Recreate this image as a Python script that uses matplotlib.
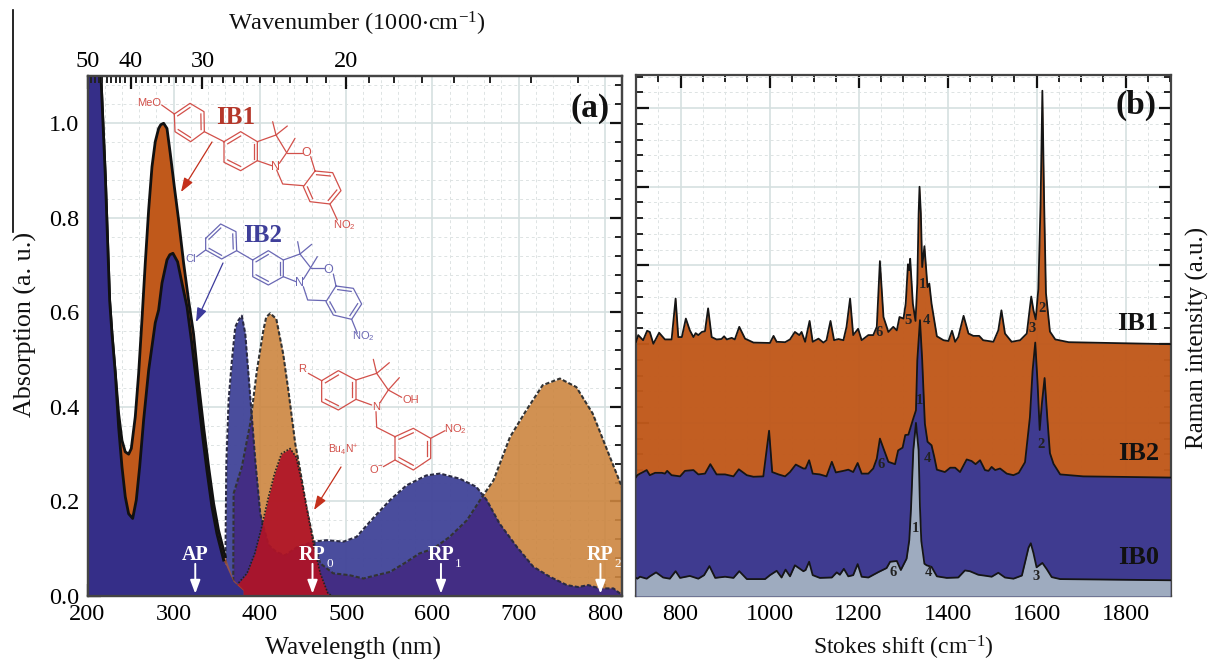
import numpy as np
import matplotlib
matplotlib.use('Agg')
import matplotlib.pyplot as plt
from matplotlib.ticker import MultipleLocator

plt.rcParams['font.family'] = ['Liberation Serif', 'DejaVu Serif']
plt.rcParams['mathtext.default'] = 'regular'

# absorption spectra (a)
wl_ib1 = [200, 215.6, 220.7, 225.7, 228.4, 232.3, 236.1, 240, 243.8, 247.7, 250.8, 255.4, 259.3, 263.2, 267, 270.9, 274.8, 278.6,
          282.5, 285, 288.3, 292.2, 296, 300.7, 305.7, 311.5, 317.3, 323, 328.9, 334.7, 340.5, 346.3, 352, 359.8, 369.5, 381]
abs_ib1 = [1.74, 1.098, .887, .625, .555, .470, .386, .329, .305, .30, .312, .379, .470, .585, .704, .816, .908, .961,
           .989, .997, 1.0, .989, .936, .866, .795, .704, .625, .555, .449, .357, .273, .196, .139, .083, .034, .013]
wl_ib2 = [200, 215.6, 220.7, 225.7, 228.4, 232.3, 236.1, 240, 243.8, 247.7, 252.4, 256.6, 260.5, 265.1, 270.9, 278.6, 282.5, 286.4,
          292.2, 295.5, 299.1, 304.5, 309.6, 315.4, 321.1, 327, 332.7, 338.5, 344.3, 350.1, 357.9, 369.5, 381]
abs_ib2 = [1.74, 1.098, .887, .625, .555, .470, .357, .273, .210, .174, .164, .203, .273, .372, .477, .578, .605, .662,
           .711, .722, .725, .707, .662, .612, .533, .442, .350, .266, .189, .132, .076, .030, .011]

wl_rp_ib2 = [359.8, 360.2, 361, 363.7, 367.5, 371.4, 375, 379, 383, 388.8, 394.6, 400.4, 404.2, 410, 419, 429, 443, 462, 477, 497,
             512, 531, 551, 570, 593, 609, 632, 651, 663, 678, 698, 717, 736, 756, 769, 781, 794, 810, 818, 820]
rp_ib2 = [.002, .111, .273, .414, .498, .569, .583, .593, .555, .421, .287, .174, .146, .108, .093, .086, .103, .115, .118, .115,
          .125, .164, .203, .234, .255, .259, .248, .231, .203, .153, .104, .062, .041, .023, .019, .023, .016, .016, .005, .003]
wl_rp_ib1 = [369, 369.5, 379, 388.8, 396.5, 404, 407.3, 412, 419, 427, 433, 441, 446, 454, 462, 470, 485, 504, 520, 535, 551, 570,
             585, 601, 620, 640, 659, 671, 690, 709, 728, 748, 767, 786, 806, 820]
rp_ib1 = [.005, .217, .273, .365, .477, .562, .590, .598, .586, .512, .435, .322, .273, .188, .118, .069, .048, .044, .037, .044, .051, .072,
          .090, .100, .125, .160, .213, .245, .336, .393, .446, .460, .442, .386, .294, .23]
wl_bu = [360.5, 373, 385, 394, 402, 410, 417, 425, 435, 442, 448, 454, 462, 470, 479, 485]
rp_bu = [.005, .023, .048, .090, .146, .210, .259, .301, .312, .294, .245, .188, .111, .048, .005, 0]

# raman spectra (b)
w_ib1 = [700, 705, 716, 725, 731, 739, 752, 765, 780, 789, 795, 803, 812, 821, 829, 834, 840, 848, 855, 862, 870, 881, 892, 898,
         904, 915, 922, 932, 945, 964, 1001, 1009, 1016, 1035, 1046, 1057, 1067, 1072, 1080, 1090, 1097, 1110, 1121, 1128, 1137,
         1145, 1155, 1166, 1173, 1181, 1188, 1199, 1207, 1222, 1233, 1241, 1248, 1256, 1267, 1278, 1286, 1292, 1301, 1306, 1311,
         1314, 1316, 1322, 1328, 1332, 1335, 1337, 1340, 1343, 1348, 1355, 1359, 1364, 1376, 1391, 1402, 1410, 1417, 1424, 1436, 1447, 1458,
         1471, 1480, 1503, 1514, 1521, 1529, 1544, 1563, 1578, 1588, 1593, 1598, 1604, 1609, 1613, 1617, 1621, 1630, 1642, 1672, 1900]
r_ib1 = [.606, .623, .610, .634, .631, .601, .629, .612, .612, .716, .618, .618, .665, .635, .618, .628, .623, .631, .633, .691, .618, .612, .613, .620,
         .612, .616, .612, .644, .614, .604, .603, .621, .606, .605, .612, .631, .623, .631, .606, .659, .606, .614, .604, .610, .659,
         .610, .613, .610, .644, .716, .623, .639, .610, .623, .623, .644, .811, .669, .631, .644, .635, .669, .665, .703, .803,
         .788, .817, .703, .659, .754, .932, 1.0, .932, .796, .849, .745, .754, .703, .620, .610, .608, .634, .606, .618, .672, .627, .621,
         .621, .610, .606, .635, .686, .627, .606, .610, .627, .721, .686, .663, .74, .958, 1.244, .958, .73, .632, .612, .605, .600]
w_ib2 = [700, 703, 709, 716, 724, 731, 743, 758, 765, 770, 780, 799, 810, 829, 840, 855, 867, 881, 900, 919, 931, 949, 964, 986, 999,
         1006, 1020, 1035, 1046, 1059, 1076, 1081, 1089, 1097, 1113, 1128, 1140, 1149, 1166, 1177, 1188, 1198, 1207, 1222, 1233, 1241,
         1248, 1256, 1267, 1282, 1289, 1299, 1305, 1312, 1323, 1329, 1332, 1338, 1343, 1349, 1355, 1364, 1370, 1376, 1394, 1406, 1417,
         1428, 1443, 1454, 1463, 1473, 1484, 1492, 1499, 1507, 1518, 1533, 1548, 1560, 1574, 1585, 1591, 1597, 1602, 1607, 1612, 1618, 1624, 1630, 1638, 1653, 1705, 1900]
r_ib2 = [.262, .267, .271, .275, .280, .267, .273, .273, .271, .278, .267, .264, .278, .280, .269, .271, .295, .269, .269, .264, .282, .267, .263, .264, .380,
         .275, .269, .264, .275, .294, .284, .284, .305, .271, .269, .264, .301, .274, .278, .281, .275, .298, .271, .271, .284, .309,
         .360, .335, .301, .295, .330, .337, .369, .370, .411, .432, .559, .661, .559, .398, .352, .343, .314, .281, .275, .286, .286,
         .275, .307, .303, .295, .305, .280, .278, .288, .280, .284, .271, .267, .273, .300, .414, .532, .604, .505, .382, .450, .514, .414, .323, .296, .269, .264, .261]
w_ib0 = [700, 703, 709, 724, 731, 745, 761, 776, 789, 799, 821, 840, 853, 865, 878, 900, 919, 932, 949, 990, 1001, 1016, 1027, 1036, 1046,
         1057, 1076, 1081, 1089, 1097, 1113, 1140, 1151, 1158, 1167, 1177, 1188, 1198, 1207, 1222, 1245, 1263, 1271, 1286, 1295, 1308,
         1314, 1318, 1323, 1329, 1335, 1338, 1341, 1348, 1353, 1364, 1376, 1398, 1424, 1439, 1450, 1469, 1488, 1499, 1514, 1529, 1548, 1567, 1582, 1587, 1593,
         1600, 1613, 1623, 1634, 1653, 1900]
r_ib0 = [.006, .004, .009, .004, .010, .020, .007, .004, .023, .006, .011, .004, .013, .036, .006, .009, .006, .023, .003, .003, .013, .024, .007, .027, .010,
         .038, .023, .026, .047, .013, .006, .007, .020, .014, .029, .010, .013, .041, .009, .007, .021, .031, .047, .049, .026, .055,
         .102, .186, .33, .400, .33, .186, .10, .042, .038, .034, .010, .006, .007, .025, .023, .014, .011, .009, .019, .007, .004, .012, .083, .094, .069,
         .033, .044, .028, .008, .003, 0]

# top axis ticks, 1000/cm
wn_major = [50, 40, 30, 20]
wn_minor = list(range(13, 50))

TAN = '#CC853F'
BLUE = '#44479A'
PURPLE = '#432D84'
RED = '#B01427'
ORANGE = '#C0591B'
NAVY = '#352E88'
GREY = '#9EABBF'
ARROW_RED = '#C4301C'
MOL_RED = '#D2504A'
MOL_BLUE = '#6A68B4'

W, H = 1210, 661
fig = plt.figure(figsize=(W / 100, H / 100), dpi=100)
ax1 = fig.add_axes([87.5 / W, 1 - 596 / H, 534.5 / W, 520 / H])
ax2 = fig.add_axes([636 / W, 1 - 596 / H, 535 / W, 521 / H])


def style_axes(ax):
    ax.set_axisbelow(True)
    ax.grid(which='major', color='#D5E0E0', lw=1.2)
    ax.grid(which='minor', color='#DDE3E3', lw=0.7, ls=(0, (3, 3)))
    ax.tick_params(which='major', direction='in', length=9, width=1.6, color='#111111', labelsize=17.5, pad=6)
    ax.tick_params(which='minor', direction='in', length=5, width=1.4, color='#222222')
    ax.tick_params(which='both', left=True, right=True, bottom=True)
    for s in ax.spines.values():
        s.set_linewidth(1.6)
        s.set_color('#444444')


# panel a
ax1.set_xlim(200, 820)
ax1.set_ylim(0, 1.1)
ax1.xaxis.set_major_locator(MultipleLocator(100))
ax1.xaxis.set_minor_locator(MultipleLocator(20))
ax1.yaxis.set_major_locator(MultipleLocator(0.2))
ax1.yaxis.set_minor_locator(MultipleLocator(0.04))
style_axes(ax1)

ax1.fill_between(wl_rp_ib1, rp_ib1, color=TAN, alpha=0.9, lw=0, zorder=2)
blue_fill = ax1.fill_between(wl_rp_ib2, rp_ib2, color=BLUE, alpha=0.97, lw=0, zorder=3)
both = ax1.fill_between(wl_rp_ib1, rp_ib1, color=PURPLE, lw=0, zorder=4)
both.set_clip_path(blue_fill.get_paths()[0], blue_fill.get_transform())
ax1.plot(wl_rp_ib1, rp_ib1, color='#333333', lw=1.5, ls=(0, (2, 1)), zorder=5)
ax1.plot(wl_rp_ib2, rp_ib2, color='#2A2A44', lw=1.5, ls=(0, (2, 1)), zorder=5)
ax1.fill_between(wl_bu, rp_bu, color=RED, alpha=0.93, lw=0, zorder=6)
ax1.plot(wl_bu, rp_bu, color='#222222', lw=1.2, ls=(0, (1, 1)), zorder=7)
# the black outlines stop near 360 nm, only the fill runs on
ax1.fill_between(wl_ib1, abs_ib1, color=ORANGE, alpha=0.6, lw=0, zorder=8)
ax1.fill_between(wl_ib1[:-2], abs_ib1[:-2], color=ORANGE, lw=0, zorder=8)
ax1.plot(wl_ib1[:-2], abs_ib1[:-2], color='#111111', lw=2, zorder=9)
ax1.fill_between(wl_ib2, abs_ib2, color=NAVY, lw=0, zorder=10)
ax1.plot(wl_ib2[:-2], abs_ib2[:-2], color='#111111', lw=2, zorder=11)

top = ax1.twiny()
top.set_xlim(200, 820)
top.set_xticks([1e4 / k for k in wn_major])
top.set_xticklabels([str(k) for k in wn_major])
top.set_xticks([1e4 / k for k in wn_minor], minor=True)
top.tick_params(which='major', direction='in', length=9, width=1.6, color='#111111', labelsize=17.5, pad=3)
top.tick_params(which='minor', direction='in', length=5, width=1.4, color='#222222')
for s in top.spines.values():
    s.set_linewidth(1.6)
    s.set_color('#444444')

# panel b
ax2.set_xlim(700, 1902)
ax2.set_ylim(-0.04, 1.284)
ax2.xaxis.set_major_locator(MultipleLocator(200))
ax2.xaxis.set_minor_locator(MultipleLocator(50))
ax2.yaxis.set_major_locator(MultipleLocator(0.2))
ax2.yaxis.set_minor_locator(MultipleLocator(0.04))
style_axes(ax2)
ax2.tick_params(which='both', top=True, labelleft=False)
ax2.fill_between(w_ib1, r_ib1, -0.04, color=ORANGE, alpha=0.97, lw=0, zorder=2)
ax2.plot(w_ib1, r_ib1, color='#151515', lw=1.3, zorder=3)
ax2.fill_between(w_ib2, r_ib2, -0.04, color='#3F3B90', lw=0, zorder=4)
ax2.plot(w_ib2, r_ib2, color='#151515', lw=1.3, zorder=5)
ax2.fill_between(w_ib0, r_ib0, -0.04, color=GREY, lw=0, zorder=6)
ax2.plot(w_ib0, r_ib0, color='#151515', lw=1.3, zorder=7)

# arrows and labels inside panel a
for x_arr, lab, sub in [(325, 'AP', ''), (461, 'RP', '0'), (610, 'RP', '1'), (795, 'RP', '2')]:
    ax1.annotate('', xy=(x_arr, 0.005), xytext=(x_arr, 0.068), zorder=20,
                 arrowprops=dict(arrowstyle='-|>,head_width=0.3,head_length=0.8', color='white', lw=1.4, shrinkA=0, shrinkB=0))
    ax1.text(x_arr, 0.087, lab, color='white', fontsize=14.5, fontweight='bold', ha='center', va='center', zorder=20)
    if sub:
        ax1.text(x_arr + 20, 0.067, sub, color='white', fontsize=9.5, ha='center', va='center', zorder=20)

# page overlay in pixels, for the chemical drawings and labels
ov = fig.add_axes([0, 0, 1, 1], facecolor='none')
ov.set_xlim(0, W)
ov.set_ylim(H, 0)
ov.axis('off')


def bonds(paths, color, off=(0, 0)):
    for p in paths:
        a = np.array(p, dtype=float) / 3 + off
        ov.plot(a[:, 0], a[:, 1], color=color, lw=0.9, solid_capstyle='round')


def ring(pts, color, off=(0, 0), doubles=(0, 2, 4)):
    a = np.array(pts, dtype=float) / 3 + off
    ov.plot(*np.vstack([a, a[:1]]).T, color=color, lw=0.9)
    c = a.mean(axis=0)
    for i in doubles:
        p = a[i] + (c - a[i]) * 0.22
        q = a[(i + 1) % 6] + (c - a[(i + 1) % 6]) * 0.22
        ov.plot([p[0], q[0]], [p[1], q[1]], color=color, lw=0.9)


def label(x, y, s, color, size=8, off=(0, 0)):
    ov.text(x / 3 + off[0], y / 3 + off[1], s, color=color, fontsize=size, family='Liberation Sans', ha='center', va='center')


def mol_arrow(a, b, color):
    ov.annotate('', xy=(b[0], b[1]), xytext=(a[0], a[1]),
                arrowprops=dict(arrowstyle='-|>,head_width=0.3,head_length=0.85', color=color, lw=0.9, shrinkA=0, shrinkB=0))


# IB1 molecule
c = MOL_RED
ring([(523, 342), (570, 310), (612, 335), (613, 395), (572, 425), (525, 395)], c)
ring([(672, 425), (722, 395), (772, 425), (772, 482), (722, 512), (672, 487)], c)
ring([(945, 513), (998, 518), (1023, 572), (990, 612), (930, 605), (910, 560)], c)
bonds([[(485, 315), (523, 342)], [(613, 395), (672, 425)],
       [(772, 425), (828, 405), (860, 458), (838, 490)], [(772, 482), (815, 497)],
       [(828, 405), (818, 365)], [(828, 405), (862, 378)], [(860, 458), (885, 415)],
       [(860, 458), (905, 458)], [(932, 470), (945, 513)],
       [(830, 510), (848, 552), (910, 557)], [(990, 612), (1012, 660)]], c)
label(448, 308, 'MeO', c)
label(918, 459, 'O', c, 9)
label(826, 502, 'N', c, 9)
label(1032, 675, 'NO$_2$', c)
ov.text(236, 117, 'IB1', color='#B5372A', fontsize=18, fontweight='bold', ha='center', va='center')
mol_arrow((212, 142), (181, 192), ARROW_RED)

# IB2 molecule
c = MOL_BLUE
ring([(617, 715), (662, 672), (708, 695), (710, 752), (665, 777), (617, 750)], c)
ring([(758, 780), (805, 752), (850, 780), (850, 830), (805, 855), (758, 830)], c)
ring([(1008, 858), (1060, 865), (1085, 912), (1055, 958), (1000, 945), (978, 905)], c)
bonds([[(617, 750), (590, 770)], [(710, 752), (758, 780)],
       [(850, 780), (900, 762), (932, 803), (910, 838)], [(850, 830), (888, 845)],
       [(900, 762), (893, 725)], [(900, 762), (935, 733)], [(932, 803), (952, 770)],
       [(932, 803), (972, 803)], [(1000, 822), (1008, 858)],
       [(910, 860), (923, 900), (978, 902)], [(1055, 958), (1072, 1000)]], c)
label(572, 778, 'Cl', c)
label(985, 810, 'O', c, 9)
label(900, 850, 'N', c, 9)
ov.text(363, 336, 'NO$_2$', color=c, fontsize=8, family='Liberation Sans', ha='center', va='center')
ov.text(263, 235, 'IB2', color='#3F3F9A', fontsize=18, fontweight='bold', ha='center', va='center')
mol_arrow((223, 263), (196, 322), '#3C3A9C')

# photoproduct molecule
c = MOL_RED
o3 = (200, 310)
ring([(365, 212), (415, 182), (468, 210), (468, 268), (415, 300), (365, 275)], c, o3)
ring([(585, 380), (640, 355), (692, 385), (692, 445), (640, 480), (585, 450)], c, o3)
bonds([[(325, 190), (365, 212)], [(468, 210), (530, 190), (565, 240), (540, 278)], [(468, 268), (515, 285)],
       [(530, 190), (520, 148)], [(530, 190), (568, 158)], [(565, 240), (598, 203)], [(565, 240), (605, 262)],
       [(528, 305), (530, 352), (585, 380)], [(692, 385), (735, 362)], [(585, 450), (550, 470)]], c, o3)
label(305, 178, 'R', c, 8, o3)
label(632, 270, 'OH', c, 8, o3)
label(528, 292, 'N', c, 8, o3)
label(765, 358, 'NO$_2$', c, 8, o3)
label(530, 478, 'O$^{-}$', c, 8, o3)
label(430, 420, 'Bu$_4$N$^{+}$', c, 7.5, o3)
mol_arrow((341, 467), (314, 510), ARROW_RED)

# panel letters
ov.text(590, 108, '(a)', fontsize=24, fontweight='bold', color='#111111', ha='center', va='center')
ov.text(1136, 105, '(b)', fontsize=24, fontweight='bold', color='#111111', ha='center', va='center')
ov.text(1138, 323, 'IB1', fontsize=19, fontweight='bold', color='#111111', ha='center', va='center')
ov.text(1139, 454, 'IB2', fontsize=19, fontweight='bold', color='#111111', ha='center', va='center')
ov.text(1139, 558, 'IB0', fontsize=19, fontweight='bold', color='#111111', ha='center', va='center')

# peak numbers in panel b
peak_marks = [(922, 285, '1'), (1042, 308, '2'), (1032, 329, '3'), (926, 320, '4'), (908, 321, '5'), (879, 333, '6'),
              (919, 401, '1'), (1041, 445, '2'), (927, 458, '4'), (881, 465, '6'),
              (915, 529, '1'), (928, 573, '4'), (893, 573, '6'), (1036, 577, '3')]
for x, y, s in peak_marks:
    ov.text(x, y, s, fontsize=10.5, fontweight='bold', color='#222222', ha='center', va='center')

# axis titles
ov.text(357, 24, 'Wavenumber (1000$\\cdot$cm$^{-1}$)', fontsize=17.5, ha='center', va='center', color='#111111')
ov.text(353, 648, 'Wavelength (nm)', fontsize=18.3, ha='center', va='center', color='#111111')
ov.text(903, 648, 'Stokes shift (cm$^{-1}$)', fontsize=17, ha='center', va='center', color='#111111')
ov.text(25, 324, 'Absorption (a. u.)', fontsize=18.7, rotation=90, ha='center', va='center', color='#111111')
ov.text(1197, 338, 'Raman intensity (a.u.)', fontsize=18, rotation=90, ha='center', va='center', color='#111111')
ov.plot([12.5, 12.5], [10, 232], color='black', lw=1.2)

fig.savefig('out.png', dpi=100)
